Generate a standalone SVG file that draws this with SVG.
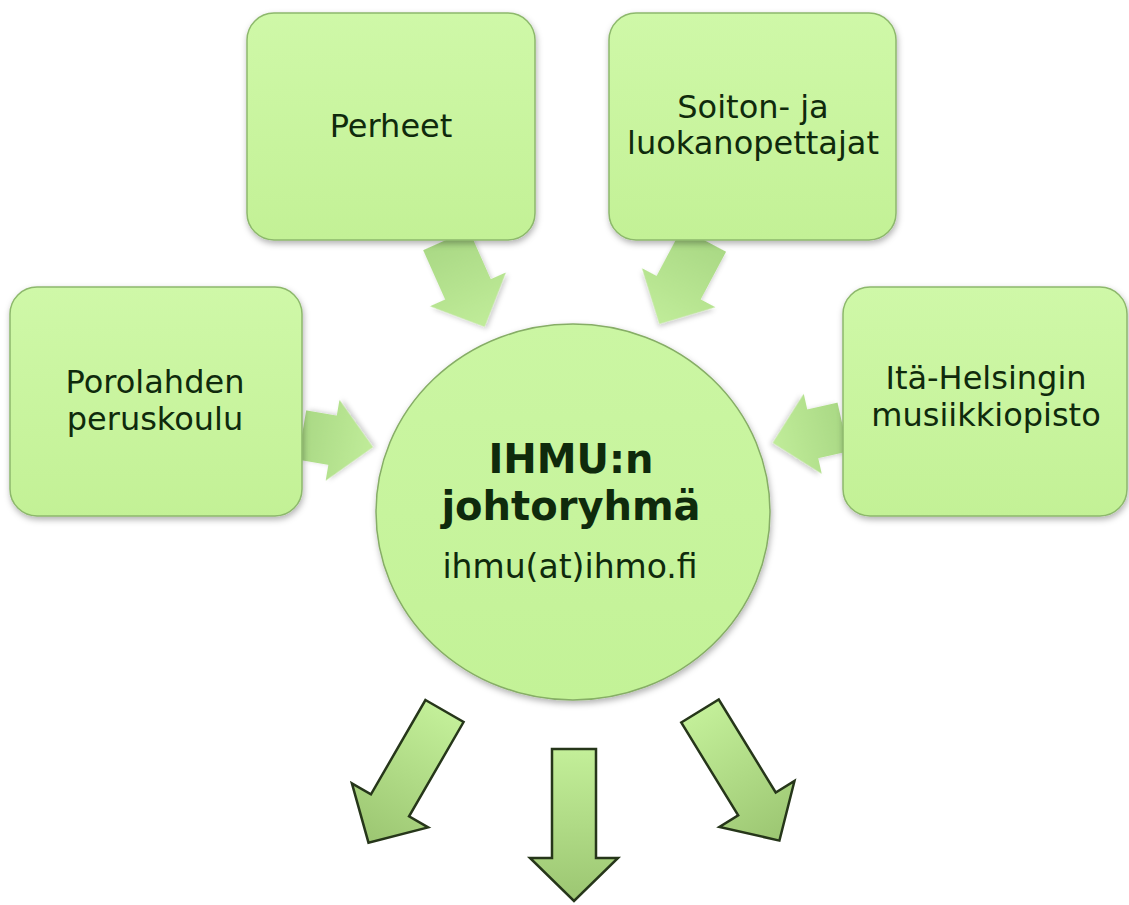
<svg xmlns="http://www.w3.org/2000/svg" xmlns:xlink="http://www.w3.org/1999/xlink" width="1129" height="905" viewBox="0 0 1129 905">
<style>
.box{fill:url(#boxGrad);stroke:#8db86c;stroke-width:1.5;filter:url(#shadow)}
.hub{fill:url(#hubGrad);stroke:#86ad66;stroke-width:1.5;filter:url(#shadow)}
.lbl{font-family:"DejaVu Sans",Verdana,sans-serif;font-size:32px;fill:#0f2a0c;text-anchor:middle}
.hubT{font-family:"DejaVu Sans",Verdana,sans-serif;font-size:40px;font-weight:bold;fill:#0f2a0c;text-anchor:middle}
.hubS{font-family:"DejaVu Sans",Verdana,sans-serif;font-size:33px;fill:#0f2a0c;text-anchor:middle}
.inA{fill:url(#inGrad);filter:url(#softShadow)}
.outA{fill:url(#outGrad);stroke:#26361a;stroke-width:2.5;stroke-linejoin:miter}
</style>
<defs>
<linearGradient id="boxGrad" x1="0" y1="0" x2="0" y2="1">
<stop offset="0" stop-color="#cff8a8"/>
<stop offset="1" stop-color="#c3f196"/>
</linearGradient>
<linearGradient id="hubGrad" x1="0" y1="0" x2="0" y2="1">
<stop offset="0" stop-color="#cbf6a3"/>
<stop offset="1" stop-color="#c3f297"/>
</linearGradient>
<linearGradient id="inGrad" x1="0" y1="0" x2="0" y2="1">
<stop offset="0" stop-color="#aad985"/>
<stop offset="1" stop-color="#c0ec99"/>
</linearGradient>
<linearGradient id="outGrad" x1="0" y1="0" x2="0" y2="1">
<stop offset="0" stop-color="#c3ef99"/>
<stop offset="1" stop-color="#9cc672"/>
</linearGradient>
<filter id="shadow" x="-10%" y="-10%" width="125%" height="130%">
<feDropShadow dx="1" dy="3" stdDeviation="3" flood-color="#000" flood-opacity="0.3"/>
</filter>
<filter id="softShadow" x="-20%" y="-20%" width="150%" height="150%">
<feDropShadow dx="1" dy="3" stdDeviation="2.5" flood-color="#000" flood-opacity="0.2"/>
</filter>
<polygon id="inLong" points="-25,0 25,0 25,54 41.5,54 0,95 -41.5,54 -25,54"/>
<polygon id="inShort" points="-25,0 25,0 25,31 41,31 0,72 -41,31 -25,31"/>
<polygon id="outArrow" points="-22,0 22,0 22,109 44,109 0,152 -44,109 -22,109"/>
</defs>

<g id="connectors">
<use xlink:href="#inLong" class="inA" transform="translate(446,240) rotate(-24)"/>
<use xlink:href="#inLong" class="inA" transform="translate(704,240) rotate(28)"/>
<use xlink:href="#inShort" class="inA" transform="translate(302,435) rotate(-80.3)"/>
<use xlink:href="#inShort" class="inA" transform="translate(843,427) rotate(77.3)"/>
<use xlink:href="#outArrow" class="outA" transform="translate(444.5,711) rotate(30)"/>
<use xlink:href="#outArrow" class="outA" transform="translate(574,749)"/>
<use xlink:href="#outArrow" class="outA" transform="translate(700,711) rotate(-31.5)"/>
</g>

<g id="node-perheet">
<rect class="box" x="247" y="13" width="288" height="227" rx="27"/>
<text class="lbl" x="391" y="137">Perheet</text>
</g>

<g id="node-soiton">
<rect class="box" x="609" y="13" width="287" height="227" rx="27"/>
<text class="lbl" x="753" y="118">Soiton- ja</text>
<text class="lbl" x="753" y="154">luokanopettajat</text>
</g>

<g id="node-porolahden">
<rect class="box" x="10" y="287" width="292" height="229" rx="27"/>
<text class="lbl" x="155" y="393">Porolahden</text>
<text class="lbl" x="155" y="430">peruskoulu</text>
</g>

<g id="node-ita">
<rect class="box" x="843" y="287" width="284" height="229" rx="27"/>
<text class="lbl" x="986" y="389">Itä-Helsingin</text>
<text class="lbl" x="986" y="426">musiikkiopisto</text>
</g>

<g id="node-ihmu">
<ellipse class="hub" cx="573" cy="512" rx="197" ry="188"/>
<text class="hubT" x="571" y="473">IHMU:n</text>
<text class="hubT" x="571" y="520">johtoryhmä</text>
<text class="hubS" x="570" y="578">ihmu(at)ihmo.fi</text>
</g>
</svg>
